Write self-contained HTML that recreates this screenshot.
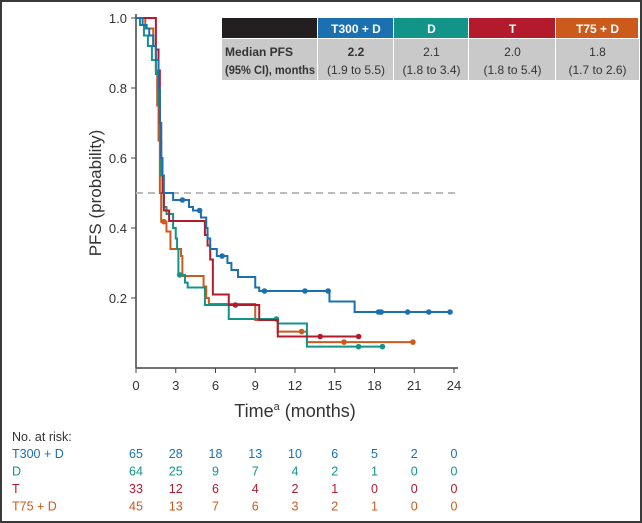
<!DOCTYPE html>
<html><head><meta charset="utf-8"><style>
body{margin:0;background:#fff}
#w{position:relative;width:638px;height:519px;border:2px solid #3a3a3a;overflow:hidden;font-family:"Liberation Sans",sans-serif}
svg text{font-family:"Liberation Sans",sans-serif}
</style></head><body>
<div id="w">
<svg id="c" width="638" height="519"></svg>
</div>
<script>
const xTicks=[0,3,6,9,12,15,18,21,24];
const yTicks=[0.2,0.4,0.6,0.8,1.0];
const seriesNames=["T300 + D","D","T","T75 + D"];
const seriesColors=["#1b70b0","#139488","#b31b2c","#cc5a1c"];
const blueT=[0,0.5,0.8,1.0,1.3,1.5,1.7,1.8,1.9,2.0,2.1,2.8,4.0,4.3,4.9,5.3,5.4,5.6,6.1,6.9,7.2,7.7,9.0,9.3,14.6,16.5];
const blueS=[1,0.98,0.97,0.95,0.92,0.88,0.80,0.70,0.60,0.55,0.50,0.48,0.46,0.45,0.43,0.40,0.37,0.34,0.32,0.30,0.28,0.26,0.23,0.22,0.19,0.16];
const blueEnd=23.7;
const blueCens=[3.5,4.8,6.5,9.7,12.75,14.5,18.3,18.5,20.5,22.1,23.7];
const tealT=[0,0.3,0.6,0.9,1.2,1.5,1.7,1.8,1.9,2.0,2.1,2.3,2.8,3.0,3.1,3.2,3.7,3.9,5.2,7.0,10.7,12.9];
const tealS=[1,0.98,0.95,0.92,0.88,0.84,0.75,0.65,0.55,0.50,0.46,0.44,0.40,0.37,0.34,0.266,0.244,0.23,0.18,0.14,0.127,0.061];
const tealEnd=18.6;
const tealCens=[3.3,10.6,16.8,18.6];
const redT=[0,1.5,1.7,1.8,1.9,2.0,2.1,2.5,5.2,5.4,5.6,5.8,7.0,9.3,10.7];
const redS=[1,0.91,0.85,0.70,0.60,0.50,0.45,0.42,0.38,0.35,0.31,0.21,0.18,0.137,0.09];
const redEnd=16.8;
const redCens=[7.5,13.9,16.8];
const oranT=[0,0.7,1.3,1.5,1.6,1.7,1.8,1.9,2.3,2.6,3.4,3.5,5.1,5.3,5.5,9.0,10.7,12.9];
const oranS=[1,0.97,0.92,0.85,0.75,0.65,0.50,0.418,0.39,0.34,0.32,0.263,0.233,0.20,0.183,0.137,0.104,0.074];
const oranEnd=20.9;
const oranCens=[2.1,12.5,15.7,20.9];
const risk=[[65,28,18,13,10,6,5,2,0],[64,25,9,7,4,2,1,0,0],[33,12,6,4,2,1,0,0,0],[45,13,7,6,3,2,1,0,0]];
const medians=["2.2","2.1","2.0","1.8"];
const cis=["(1.9 to 5.5)","(1.8 to 3.4)","(1.8 to 5.4)","(1.7 to 2.6)"];

const X=t=>134+t*13.25, Y=p=>366-p*350;
const svg=document.getElementById('c');
const NS="http://www.w3.org/2000/svg";
function mk(tag,at,txt){const e=document.createElementNS(NS,tag);for(const k in at)e.setAttribute(k,at[k]);if(txt!=null)e.textContent=txt;svg.appendChild(e);return e;}
let e=mk('line',{x1:X(0),y1:Y(1.0)-4,x2:X(0),y2:Y(0),stroke:'#444','stroke-width':1.5});

e=mk('line',{x1:X(0),y1:Y(0),x2:X(24)+4,y2:Y(0),stroke:'#444','stroke-width':1.5});

xTicks.forEach(t=>{mk('line',{x1:X(t),y1:Y(0),x2:X(t),y2:Y(0)+5,stroke:'#444'});
 e=mk('text',{x:X(t),y:Y(0)+22,'text-anchor':'middle','font-size':13,fill:'#333'},t);
 });
yTicks.forEach(p=>{mk('line',{x1:X(0)-5,y1:Y(p),x2:X(0),y2:Y(p),stroke:'#444'});
 e=mk('text',{x:X(0)-9,y:Y(p)+5,'text-anchor':'end','font-size':13,fill:'#333'},p.toFixed(1));
 });
e=mk('text',{x:0,y:0,transform:`translate(99,${Y(0.5)}) rotate(-90)`,'text-anchor':'middle','font-size':17,fill:'#333'},'PFS (probability)');

e=mk('text',{x:X(12),y:415,'text-anchor':'middle','font-size':18,fill:'#333'});
e.innerHTML='Time<tspan font-size="11" dy="-7">a</tspan><tspan dy="7"> (months)</tspan>';

e=mk('line',{x1:X(0),y1:Y(0.5),x2:X(24.3),y2:Y(0.5),stroke:'#bbb','stroke-width':2,'stroke-dasharray':'7,5'});

const curves=[[blueT,blueS,blueEnd,blueCens],[tealT,tealS,tealEnd,tealCens],[redT,redS,redEnd,redCens],[oranT,oranS,oranEnd,oranCens]];
function survAt(T,S,t){let s=S[0];for(let i=0;i<T.length;i++)if(T[i]<=t)s=S[i];return s;}
[3,1,2,0].forEach(i=>{const [T,S,end,C]=curves[i];
 let d=`M${X(T[0])},${Y(S[0])}`;
 for(let k=1;k<T.length;k++){d+=`H${X(T[k])}V${Y(S[k])}`;}
 d+=`H${X(end)}`;
 const p=mk('path',{d,fill:'none',stroke:seriesColors[i],'stroke-width':2});
 
 
 C.forEach(t=>{const c=mk('circle',{cx:X(t),cy:Y(survAt(T,S,t)),r:2.8,fill:seriesColors[i]});
  
  });
});
const tx=[220,316,392,467,554,637];
e=mk('rect',{x:tx[0],y:16,width:tx[1]-tx[0]-1,height:20,fill:'#231f20'});

e=mk('rect',{x:tx[0],y:37,width:tx[5]-tx[0],height:41,fill:'#c9c9c9'});

for(let i=0;i<4;i++){
 e=mk('rect',{x:tx[i+1],y:16,width:tx[i+2]-tx[i+1]-1,height:20,fill:seriesColors[i]});
 
 const cx=(tx[i+1]+tx[i+2])/2;
 e=mk('text',{x:cx,y:31,'text-anchor':'middle','font-size':12,'font-weight':'bold',fill:'#fff'},seriesNames[i]);
 
 e=mk('text',{x:cx,y:54,'text-anchor':'middle','font-size':12,'font-weight':i==0?'bold':'normal',fill:'#333'},medians[i]);
 
 e=mk('text',{x:cx,y:72,'text-anchor':'middle','font-size':12,fill:'#333'},cis[i]);
 
 mk('line',{x1:tx[i+1]-0.5,y1:37,x2:tx[i+1]-0.5,y2:78,stroke:'#fff','stroke-width':1});
}
mk('line',{x1:tx[0],y1:36.5,x2:tx[5],y2:36.5,stroke:'#fff'});
e=mk('text',{x:223,y:54,'font-size':12,'font-weight':'bold',fill:'#333'},'Median PFS');

e=mk('text',{x:223,y:72,'font-size':12,'font-weight':'bold',fill:'#333',textLength:90,lengthAdjust:'spacingAndGlyphs'},'(95% CI), months');

e=mk('text',{x:10,y:439,'font-size':12.5,fill:'#333'},'No. at risk:');

risk.forEach((row,i)=>{const y=456+i*17.5;
 e=mk('text',{x:10,y,'font-size':12.5,fill:seriesColors[i]},seriesNames[i]);
 
 row.forEach((v,j)=>{e=mk('text',{x:X(xTicks[j]),y,'text-anchor':'middle','font-size':12.5,fill:seriesColors[i]},v);
  });
});
</script>
</body></html>
